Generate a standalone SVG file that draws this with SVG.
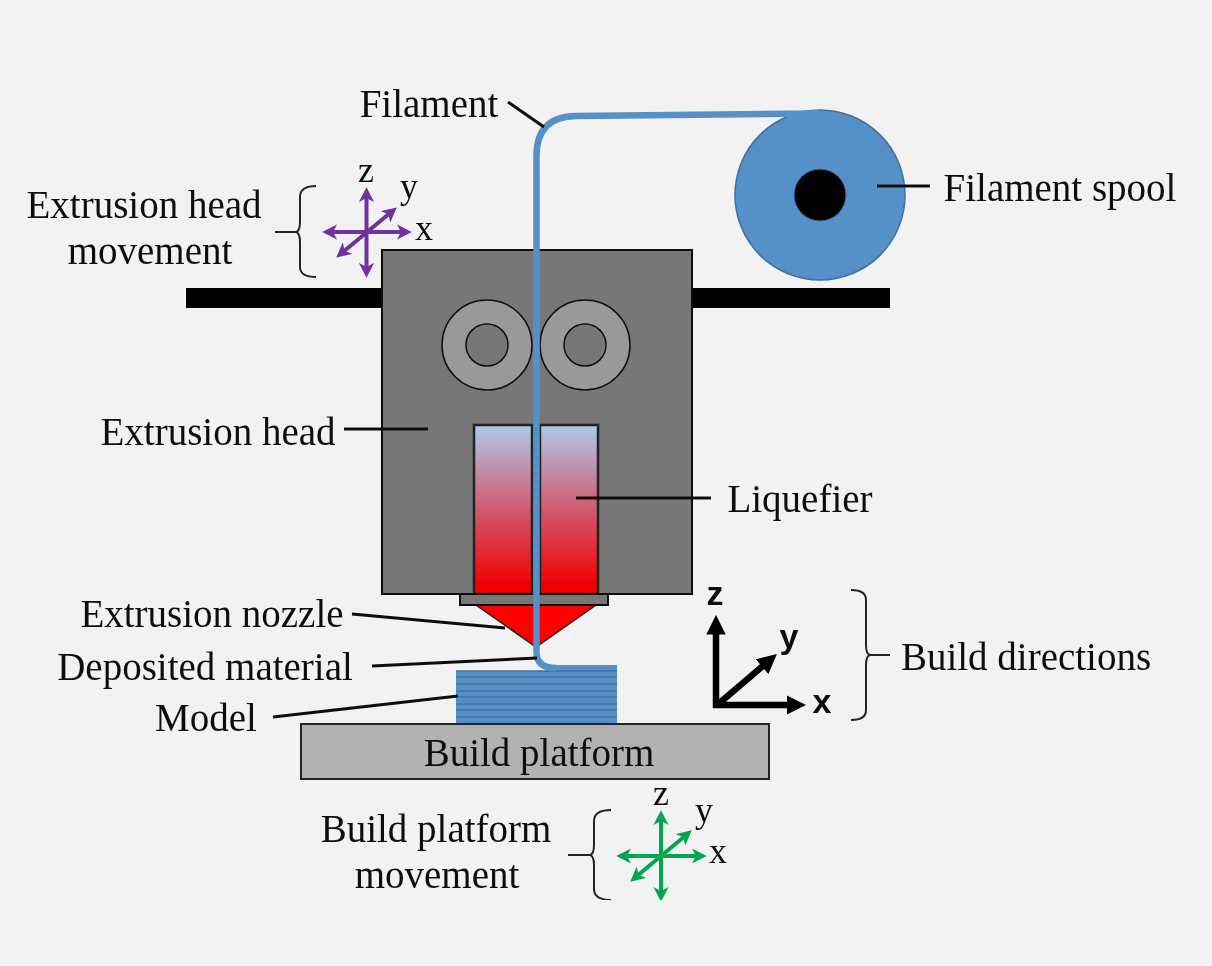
<svg xmlns="http://www.w3.org/2000/svg" width="1212" height="966" viewBox="0 0 1212 966">
<style>
.t{font-family:"Liberation Serif",serif;font-size:39px;fill:#111;text-anchor:middle}
.a{font-family:"Liberation Serif",serif;font-size:36px;fill:#111;text-anchor:middle}
.b{font-family:"Liberation Sans",sans-serif;font-weight:bold;font-size:34px;fill:#111;text-anchor:middle}
.l{fill:none;stroke:#111;stroke-width:3}
.br{fill:none;stroke:#222;stroke-width:2}
.pu{stroke:#7030a0;stroke-width:4;fill:none}
.gr{stroke:#00a650;stroke-width:4;fill:none}
.k{stroke:#000;stroke-width:6.5;fill:none}
.wheel{fill:#999;stroke:#111;stroke-width:1.5}
.hub{fill:#777;stroke:#111;stroke-width:1.5}
.liq{fill:url(#lq);stroke:#222;stroke-width:2.5}
.ly{stroke:#44719f;stroke-width:1.5}
</style>
<defs>
<linearGradient id="lq" x1="0" y1="0" x2="0" y2="1"><stop offset="0" stop-color="#aecbe8"/><stop offset="0.5" stop-color="#d05a70"/><stop offset="0.95" stop-color="#f00000"/></linearGradient>
<marker id="mp" markerWidth="3.8" markerHeight="3.8" refX="1.5" refY="1.9" orient="auto-start-reverse"><path d="M0 0L3.7 1.9L0 3.8L1 1.9z" fill="#7030a0"/></marker>
<marker id="mg" markerWidth="3.8" markerHeight="3.8" refX="1.5" refY="1.9" orient="auto-start-reverse"><path d="M0 0L3.7 1.9L0 3.8L1 1.9z" fill="#00a650"/></marker>
<marker id="mk" markerWidth="3" markerHeight="3" refX="1" refY="1.5" orient="auto"><path d="M0 0L3 1.5L0 3z" fill="#000"/></marker>
<filter id="soft" x="0" y="0" width="1" height="1"><feGaussianBlur stdDeviation="0.55"/></filter>
</defs>
<rect width="1212" height="966" fill="#f2f2f2"/>
<g filter="url(#soft)">
<g id="rail"><rect x="186" y="288" width="704" height="20" fill="#000"/></g>

<g id="extrusion-head">
<rect x="382" y="250" width="310" height="344" fill="#777" stroke="#111" stroke-width="2"/>
<circle class="wheel" cx="487" cy="345" r="45"/><circle class="hub" cx="487" cy="345" r="21"/>
<circle class="wheel" cx="585" cy="345" r="45"/><circle class="hub" cx="585" cy="345" r="21"/>
</g>

<g id="liquefier">
<rect class="liq" x="474" y="425" width="58" height="169"/>
<rect class="liq" x="540" y="425" width="58" height="169"/>
</g>

<g id="extrusion-nozzle">
<path d="M476 605H596L536 647z" fill="#f00" stroke="#222" stroke-width="1.5"/>
<rect x="460" y="594" width="148" height="11" fill="#777" stroke="#111" stroke-width="2"/>
</g>

<g id="filament-spool">
<circle cx="820" cy="195" r="85" fill="#5590c8" stroke="#3f6f9f" stroke-width="1.5"/>
<circle cx="820" cy="195" r="26" fill="#000" stroke="#3f6f9f" stroke-width="1"/>
</g>

<g id="model">
<rect x="456" y="671" width="161" height="52" fill="#5590c8"/>
<rect x="546" y="665" width="71" height="6" fill="#5590c8"/>
<path class="ly" d="M456 671H617M456 677H617M456 684H617M456 691H617M456 697H617M456 704H617M456 710H617M456 717H617"/>
</g>

<g id="filament">
<path d="M820 113.500L576 116Q536.500 116.500 536.500 156V652Q536.500 668 556 668" fill="none" stroke="#5590c8" stroke-width="6.500"/>
</g>

<g id="build-platform">
<rect x="301" y="724" width="468" height="55" fill="#b2b2b2" stroke="#222" stroke-width="2"/>
<text class="t" x="539" y="766">Build platform</text>
</g>

<g id="connectors">
<path class="l" d="M508 102L544 127"/>
<path class="l" d="M877 186H930"/>
<path class="l" d="M344 429H428"/>
<path class="l" d="M576 498H711"/>
<path class="l" d="M352 614L505 628"/>
<path class="l" d="M372 666L537 658"/>
<path class="l" d="M273 717L458 696"/>
<path class="br" d="M316 186Q301 186 300 196V222Q300 231 296 232H275M296 232Q300 233 300 242V268Q301 277 316 277"/>
<path class="br" d="M611 810Q595 810 594 820V845Q594 854 590 855H568M590 855Q594 856 594 865V890Q595 900 611 900"/>
<path class="br" d="M851 590Q866 590 866 600V645Q866 654 870 655H890M870 655Q866 656 866 665V710Q866 720 851 720"/>
</g>

<g id="extrusion-head-axes">
<path class="pu" marker-start="url(#mp)" marker-end="url(#mp)" d="M366.500 196V269"/>
<path class="pu" marker-start="url(#mp)" marker-end="url(#mp)" d="M331 232H403"/>
<path class="pu" marker-start="url(#mp)" marker-end="url(#mp)" d="M343 252L390 213"/>
<text class="a" x="366" y="182">z</text><text class="a" x="409" y="198">y</text><text class="a" x="424" y="240">x</text>
</g>

<g id="build-platform-axes">
<path class="gr" marker-start="url(#mg)" marker-end="url(#mg)" d="M661 819V893"/>
<path class="gr" marker-start="url(#mg)" marker-end="url(#mg)" d="M625 856H698"/>
<path class="gr" marker-start="url(#mg)" marker-end="url(#mg)" d="M637 876L685 836"/>
<text class="a" x="661" y="805">z</text><text class="a" x="704" y="822">y</text><text class="a" x="718" y="863">x</text>
</g>

<g id="build-axes">
<path class="k" marker-end="url(#mk)" d="M716 708V628"/>
<path class="k" marker-end="url(#mk)" d="M713 705H793"/>
<path class="k" marker-end="url(#mk)" d="M716 706L767 662.500"/>
<text class="b" x="715" y="605">z</text><text class="b" x="789" y="648">y</text><text class="b" x="822" y="713">x</text>
</g>

<g id="labels">
<text class="t" x="429" y="117">Filament</text>
<text class="t" x="1060" y="201">Filament spool</text>
<text class="t" x="144" y="218">Extrusion head</text>
<text class="t" x="150" y="264">movement</text>
<text class="t" x="218" y="445">Extrusion head</text>
<text class="t" x="800" y="512">Liquefier</text>
<text class="t" x="212" y="627">Extrusion nozzle</text>
<text class="t" x="205" y="680">Deposited material</text>
<text class="t" x="206" y="731">Model</text>
<text class="t" x="1026" y="670">Build directions</text>
<text class="t" x="436" y="842">Build platform</text>
<text class="t" x="437" y="888">movement</text>
</g>
</g>
</svg>
